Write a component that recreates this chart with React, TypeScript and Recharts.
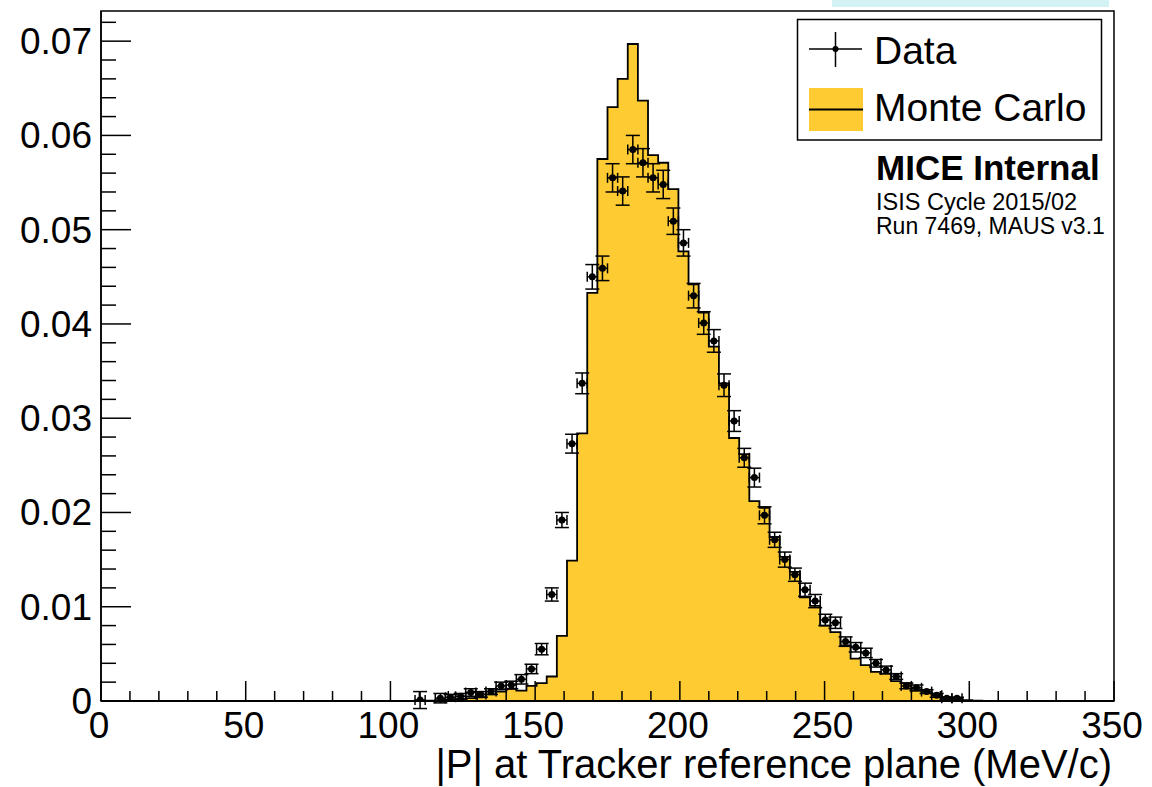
import React from 'react';
import { ComposedChart, Area, Scatter, ErrorBar, XAxis, YAxis, ReferenceArea } from 'recharts';

// histogram binning: 100 bins of 3.5 MeV/c from 0 to 350
const BIN_WIDTH = 3.5;

// Monte Carlo bin contents, bin 0 .. 99
const MC_VALUES = [
  0, 0, 0, 0, 0, 0, 0, 0, 0, 0,
  0, 0, 0, 0, 0, 0, 0, 0, 0, 0,
  0, 0, 0, 0, 0, 0, 0, 0, 0, 0,
  0, 0.00003, 0.00005, 0.0001, 0.00015, 0.0002, 0.0003, 0.0004, 0.0007, 0.001,
  0.0013, 0.0011, 0.0016, 0.0019, 0.0026, 0.0069, 0.0149, 0.0284, 0.0433, 0.0575,
  0.063, 0.066, 0.0697, 0.0637, 0.0579, 0.0571, 0.0543, 0.0477, 0.0442, 0.0412,
  0.0376, 0.0337, 0.0279, 0.0262, 0.0212, 0.0205, 0.0174, 0.0153, 0.0137, 0.011,
  0.0101, 0.008, 0.0073, 0.0059, 0.0045, 0.0038, 0.0031, 0.0029, 0.0021, 0.0019,
  0.0011, 0.001, 0.0006, 0.0004, 0.0002, 0.0001, 0.00005, 0, 0, 0,
  0, 0, 0, 0, 0, 0, 0, 0, 0, 0,
];

// measured data, starting at bin 31 (null = empty bin)
const DATA_FIRST_BIN = 31;
const DATA_VALUES = [
  0.0001, null, 0.0003, 0.0004, 0.0005, 0.0009, 0.0007, 0.001, 0.0016,
  0.0017, 0.0023, 0.0034, 0.0055, 0.0113, 0.0192, 0.0273, 0.0337, 0.045, 0.0459,
  0.0555, 0.0541, 0.0585, 0.0571, 0.0555, 0.0548, 0.0509, 0.0486, 0.043, 0.0401,
  0.0382, 0.0335, 0.0297, 0.0258, 0.0237, 0.0197, 0.0171, 0.015, 0.0134, 0.0118,
  0.0106, 0.0086, 0.0083, 0.0063, 0.0057, 0.0051, 0.004, 0.0033, 0.0026, 0.0016,
  0.0014, 0.001, 0.0006, 0.0003, 0.0003,
];
const DATA_ERRORS = [
  0.0009, 0, 0.0005, 0.0003, 0.0003, 0.0004, 0.0003, 0.0003, 0.0004,
  0.0004, 0.0005, 0.0005, 0.0006, 0.0007, 0.0008, 0.001, 0.0011, 0.0013, 0.0013,
  0.0015, 0.0015, 0.0015, 0.0015, 0.0015, 0.0015, 0.0014, 0.0014, 0.0013, 0.0012,
  0.0012, 0.0012, 0.0011, 0.001, 0.001, 0.0009, 0.0008, 0.0008, 0.0007, 0.0007,
  0.0007, 0.0006, 0.0006, 0.0005, 0.0005, 0.0005, 0.0004, 0.0004, 0.0003, 0.0003,
  0.0003, 0.0002, 0.0002, 0.0001, 0.0001,
];

const X_MAJOR = [0, 50, 100, 150, 200, 250, 300, 350];
const Y_MAJOR = [0, 0.01, 0.02, 0.03, 0.04, 0.05, 0.06, 0.07];
const Y_MAX = 0.0732;

const MC_COLOR = '#fecb33';
const FONT = '"Liberation Sans", Arial, Helvetica, sans-serif';

const PLOT_LEFT = 101;
const PLOT_BOTTOM = 701;

const mcData = MC_VALUES.map((v, i) => ({ x: i * BIN_WIDTH, mc: v }));
mcData.push({ x: MC_VALUES.length * BIN_WIDTH, mc: 0 });

const dataPoints = DATA_VALUES.map((v, i) => ({
  x: (DATA_FIRST_BIN + i + 0.5) * BIN_WIDTH,
  y: v,
  ey: DATA_ERRORS[i],
  ex: BIN_WIDTH / 2,
})).filter((p) => p.y !== null);

// 5 minor divisions per major step
const xTicks: number[] = [];
for (let i = 0; i < X_MAJOR.length - 1; i++) {
  const step = (X_MAJOR[i + 1] - X_MAJOR[i]) / 5;
  for (let k = 0; k < 5; k++) xTicks.push(X_MAJOR[i] + k * step);
}
xTicks.push(X_MAJOR[X_MAJOR.length - 1]);

const yTicks: number[] = [];
const yStep = (Y_MAJOR[1] - Y_MAJOR[0]) / 5;
for (let k = 0; k * yStep <= Y_MAX + 1e-9; k++) yTicks.push(Number((k * yStep).toFixed(4)));

const isMajor = (v: number, list: number[]) => list.some((m) => Math.abs(m - v) < 1e-7);

function YTick(props: any) {
  const { y, payload } = props;
  const major = isMajor(payload.value, Y_MAJOR);
  return (
    <g>
      <line x1={PLOT_LEFT} x2={PLOT_LEFT + (major ? 30 : 15)} y1={y} y2={y} stroke="#000" strokeWidth={1.5} />
      {major && (
        <text x={92} y={y + 13} textAnchor="end" fontSize={37} fontFamily={FONT} fill="#000">
          {payload.value === 0 ? '0' : payload.value.toFixed(2)}
        </text>
      )}
    </g>
  );
}

function XTick(props: any) {
  const { x, payload } = props;
  const major = isMajor(payload.value, X_MAJOR);
  return (
    <g>
      <line x1={x} x2={x} y1={PLOT_BOTTOM} y2={PLOT_BOTTOM - (major ? 20 : 10)} stroke="#000" strokeWidth={1.5} />
      {major && (
        <text x={x - 2} y={737.5} textAnchor="middle" fontSize={37} fontFamily={FONT} fill="#000">
          {payload.value}
        </text>
      )}
    </g>
  );
}

const Dot = (props: any) => <circle cx={props.cx} cy={props.cy} r={3.5} fill="#000" />;

export default function App() {
  return (
    <div style={{ position: 'absolute', left: 0, top: 0, width: 1152, height: 787, background: '#fff' }}>
      <ComposedChart
        width={1152}
        height={787}
        data={mcData}
        margin={{ top: 11, right: 38, bottom: 0, left: 0 }}
      >
        <Area
          type="stepAfter"
          dataKey="mc"
          stroke="#000"
          strokeWidth={1.8}
          fill={MC_COLOR}
          fillOpacity={1}
          dot={false}
          activeDot={false}
          isAnimationActive={false}
        />
        <Scatter data={dataPoints} dataKey="y" shape={Dot} isAnimationActive={false}>
          <ErrorBar dataKey="ey" direction="y" width={7} stroke="#000" strokeWidth={1.5} isAnimationActive={false} />
          <ErrorBar dataKey="ex" direction="x" width={5} stroke="#000" strokeWidth={1.5} isAnimationActive={false} />
        </Scatter>
        <XAxis
          type="number"
          dataKey="x"
          domain={[0, 350]}
          ticks={xTicks}
          interval={0}
          tick={XTick}
          tickLine={false}
          height={86}
          axisLine={{ stroke: '#000', strokeWidth: 2 }}
        />
        <YAxis
          type="number"
          domain={[0, Y_MAX]}
          ticks={yTicks}
          interval={0}
          tick={YTick}
          tickLine={false}
          width={101}
          allowDataOverflow
          axisLine={{ stroke: '#000', strokeWidth: 1.5 }}
        />
        <ReferenceArea x1={0} x2={350} y1={0} y2={Y_MAX} fill="none" stroke="#000" strokeWidth={1.5} />
      </ComposedChart>
      <svg
        width={1152}
        height={787}
        style={{ position: 'absolute', left: 0, top: 0, pointerEvents: 'none' }}
        fontFamily={FONT}
      >
        <rect x={832} y={0} width={277} height={7} fill="#d3f2f5" />
        <rect x={797.5} y={19.5} width={304} height={120.5} fill="#fff" stroke="#000" strokeWidth={1.5} />
        <line x1={809} x2={862} y1={49} y2={49} stroke="#000" strokeWidth={1.5} />
        <line x1={835.5} x2={835.5} y1={32} y2={67} stroke="#000" strokeWidth={1.5} />
        <circle cx={835.5} cy={49} r={3} fill="#000" />
        <text x={874} y={63.5} fontSize={39} fill="#000">Data</text>
        <rect x={809} y={88} width={54} height={43} fill={MC_COLOR} />
        <line x1={809} x2={863} y1={109.5} y2={109.5} stroke="#000" strokeWidth={1.8} />
        <text x={874} y={121} fontSize={39} fill="#000">Monte Carlo</text>
        <text x={876} y={180} fontSize={35} fontWeight="bold" fill="#000">MICE Internal</text>
        <text x={876} y={210} fontSize={23.5} fill="#000">ISIS Cycle 2015/02</text>
        <text x={876} y={233.5} fontSize={23} fill="#000">Run 7469, MAUS v3.1</text>
        <text x={1112} y={778} fontSize={40} textAnchor="end" fill="#000">|P| at Tracker reference plane (MeV/c)</text>
      </svg>
    </div>
  );
}
